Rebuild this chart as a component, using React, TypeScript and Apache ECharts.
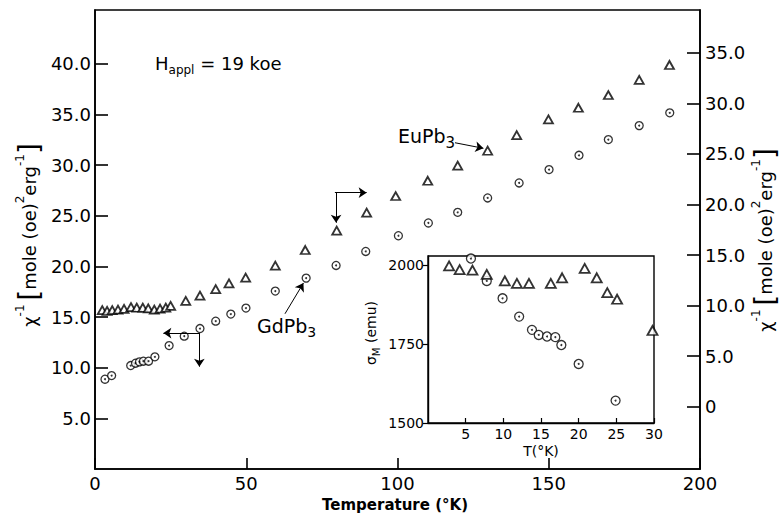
import React, { useEffect, useRef } from "react";
import * as echarts from "echarts";

// Main plot: GdPb3 (circles, left axis) and EuPb3 (triangles, right axis)
const gdT = [3.3, 5.5, 11.8, 13.4, 14.7, 16.0, 17.7, 19.8, 24.5, 29.5, 34.7, 39.9, 44.9, 49.9, 59.6, 69.8, 79.7, 89.5, 100.3, 110.2, 119.9, 129.8, 140.2, 150.1, 160.0, 169.7, 179.9, 190.0];
const gdChi = [8.86, 9.22, 10.21, 10.44, 10.57, 10.64, 10.64, 11.07, 12.18, 13.11, 13.86, 14.59, 15.29, 15.88, 17.56, 18.84, 20.09, 21.47, 23.02, 24.28, 25.33, 26.75, 28.23, 29.55, 30.96, 32.51, 33.89, 35.15];

const euT = [2.4, 4.0, 5.7, 7.6, 9.6, 11.9, 13.8, 15.8, 17.6, 19.6, 21.5, 23.4, 25.0, 30.0, 34.7, 39.9, 44.3, 49.8, 59.6, 69.5, 79.9, 89.8, 99.4, 110.0, 119.9, 129.8, 139.4, 149.9, 159.8, 169.7, 179.9, 189.9];
const euChi = [9.56, 9.47, 9.55, 9.61, 9.68, 9.86, 9.79, 9.79, 9.73, 9.60, 9.71, 9.79, 9.98, 10.46, 10.98, 11.64, 12.21, 12.76, 13.95, 15.50, 17.41, 19.19, 20.84, 22.35, 23.84, 25.32, 26.87, 28.43, 29.57, 30.83, 32.32, 33.80];

// Inset: sigma_M vs T
const insetEuT = [2.8, 4.2, 5.9, 7.8, 10.2, 11.8, 13.4, 16.3, 17.8, 20.8, 22.4, 23.8, 25.1, 29.8];
const insetEuS = [1998, 1986, 1984, 1971, 1950, 1942, 1942, 1942, 1960, 1990, 1960, 1913, 1892, 1793];
const insetGdT = [5.7, 7.8, 9.9, 12.1, 13.8, 14.7, 15.8, 16.9, 17.7, 20.0, 24.9];
const insetGdS = [2021, 1950, 1895, 1837, 1795, 1779, 1774, 1772, 1747, 1687, 1571];

// Tick values
const mainXTicks = [0, 50, 100, 150, 200];
const leftTicks = [5, 10, 15, 20, 25, 30, 35, 40];
const rightTicks = [0, 5, 10, 15, 20, 25, 30, 35];
const insetXTicks = [5, 10, 15, 20, 25, 30];
const insetYTicks = [1500, 1750, 2000];

const FONT = "DejaVu Sans";

export default function App() {
  const ref = useRef<HTMLDivElement>(null);

  useEffect(() => {
    const chart = echarts.init(ref.current!, null, { renderer: "svg" });
    const line = { color: "#000", width: 1.6 };
    const lab = { color: "#000", fontFamily: FONT, fontSize: 18 };
    const labSmall = { color: "#000", fontFamily: FONT, fontSize: 14 };
    const circleStyle = { color: "#fff", borderColor: "#000", borderWidth: 1.3 };
    const triStyle = { color: "#fff", borderColor: "#000", borderWidth: 1.8 };
    const zip = (a: number[], b: number[]) => a.map((v, i) => [v, b[i]]);
    const arrowML = (pairs: number[][][]) => ({
      silent: true,
      symbol: ["none", "arrow"],
      symbolSize: 8,
      itemStyle: { color: "#000" },
      lineStyle: { color: "#000", width: 1, type: "solid" },
      label: { show: false },
      data: pairs.map((p) => [{ coord: p[0] }, { coord: p[1] }]),
    });

    const axisNameRich = {
      t: { fontFamily: FONT, fontSize: 18, color: "#000" },
      s: { fontFamily: FONT, fontSize: 12, color: "#000", verticalAlign: "top", lineHeight: 30 },
      b: { fontFamily: FONT, fontSize: 28, color: "#000" },
    };
    const axisNameText = "{t|χ}{s|-1 }{b|[}{t|mole (oe)}{s|2}{t|erg}{s|-1}{b|]}";

    chart.setOption({
      animation: false,
      grid: [
        { left: 95, top: 10, right: 82, bottom: 45, show: true, borderColor: "#000", borderWidth: 1.6 },
        { left: 428, top: 256, right: 128, bottom: 91, show: true, borderColor: "#000", borderWidth: 1.4, backgroundColor: "#fff" },
      ],
      xAxis: [
        {
          gridIndex: 0, type: "value", min: 0, max: 200,
          axisLine: { show: true, lineStyle: line },
          axisTick: { show: true, inside: true, length: 11, lineStyle: line, customValues: mainXTicks },
          axisLabel: { ...lab, margin: 5, customValues: mainXTicks, formatter: (v: number) => String(v) },
          splitLine: { show: false },
        },
        {
          gridIndex: 1, type: "value", min: 0, max: 30,
          axisLine: { show: true, lineStyle: { color: "#000", width: 1.4 } },
          axisTick: { show: true, inside: true, length: 5, lineStyle: { color: "#000", width: 1.2 }, customValues: insetXTicks },
          axisLabel: { ...labSmall, margin: 4, customValues: insetXTicks, formatter: (v: number) => String(v) },
          splitLine: { show: false },
        },
      ],
      yAxis: [
        {
          gridIndex: 0, type: "value", position: "left", min: 0, max: 45.3,
          axisLine: { show: true, lineStyle: line },
          axisTick: { show: true, inside: true, length: 13, lineStyle: line, customValues: leftTicks },
          axisLabel: { ...lab, margin: 4, customValues: leftTicks, formatter: (v: number) => v.toFixed(1) },
          splitLine: { show: false },
        },
        {
          gridIndex: 0, type: "value", position: "right", min: -6.16, max: 39.24,
          axisLine: { show: true, lineStyle: line },
          axisTick: { show: true, inside: true, length: 13, lineStyle: line, customValues: rightTicks },
          axisLabel: { ...lab, margin: 5, customValues: rightTicks, formatter: (v: number) => (v === 0 ? "0" : v.toFixed(1)) },
          splitLine: { show: false },
        },
        {
          gridIndex: 1, type: "value", position: "left", min: 1500, max: 2029,
          axisLine: { show: true, lineStyle: { color: "#000", width: 1.4 } },
          axisTick: { show: true, inside: false, length: 5, lineStyle: { color: "#000", width: 1.2 }, customValues: insetYTicks },
          axisLabel: { ...labSmall, margin: 4, customValues: insetYTicks, formatter: (v: number) => String(v) },
          splitLine: { show: false },
        },
      ],
      series: [
        {
          name: "GdPb3", type: "scatter", xAxisIndex: 0, yAxisIndex: 0,
          symbol: "circle", symbolSize: 8, itemStyle: circleStyle, data: zip(gdT, gdChi),
        },
        {
          type: "scatter", xAxisIndex: 0, yAxisIndex: 0, symbol: "circle", symbolSize: 2,
          itemStyle: { color: "#000" }, data: zip(gdT, gdChi), z: 3,
          markLine: arrowML([
            [[34.7, 13.41], [22.6, 13.41]],
            [[34.5, 13.41], [34.5, 10.1]],
            [[62.8, 15.32], [68.9, 18.35]],
          ]),
        },
        {
          name: "EuPb3", type: "scatter", xAxisIndex: 0, yAxisIndex: 1,
          symbol: "triangle", symbolSize: [9, 8], itemStyle: triStyle, data: zip(euT, euChi),
        },
        {
          type: "scatter", xAxisIndex: 0, yAxisIndex: 1, symbol: "none",
          itemStyle: { color: "#000" }, data: [],
          markLine: arrowML([
            [[79.3, 21.17], [89.8, 21.17]],
            [[79.7, 21.17], [79.7, 18.2]],
            [[119.0, 26.11], [128.4, 25.56]],
          ]),
        },
        {
          type: "scatter", xAxisIndex: 1, yAxisIndex: 2,
          symbol: "circle", symbolSize: 9, itemStyle: circleStyle, data: zip(insetGdT, insetGdS), z: 4,
        },
        { type: "scatter", xAxisIndex: 1, yAxisIndex: 2, symbol: "circle", symbolSize: 2, itemStyle: { color: "#000" }, data: zip(insetGdT, insetGdS), z: 5 },
        {
          type: "scatter", xAxisIndex: 1, yAxisIndex: 2,
          symbol: "triangle", symbolSize: [10, 9], itemStyle: triStyle, data: zip(insetEuT, insetEuS), z: 4,
        },
      ],
      graphic: [
        {
          type: "text", left: 155, top: 54, z: 10,
          style: {
            text: "{h|H}{s|appl}{h| = 19 koe}",
            rich: {
              h: { fontFamily: FONT, fontSize: 18, color: "#000", lineHeight: 26 },
              s: { fontFamily: FONT, fontSize: 12, color: "#000", lineHeight: 18, verticalAlign: "bottom" },
            },
          },
        },
        {
          type: "text", left: 398, top: 126, z: 10,
          style: {
            text: "{h|EuPb}{s|3}",
            rich: {
              h: { fontFamily: FONT, fontSize: 19, color: "#000", lineHeight: 30 },
              s: { fontFamily: FONT, fontSize: 15, color: "#000", lineHeight: 16, verticalAlign: "bottom" },
            },
          },
        },
        {
          type: "text", left: 257, top: 316, z: 10,
          style: {
            text: "{h|GdPb}{s|3}",
            rich: {
              h: { fontFamily: FONT, fontSize: 19, color: "#000", lineHeight: 26 },
              s: { fontFamily: FONT, fontSize: 14, color: "#000", lineHeight: 16, verticalAlign: "bottom" },
            },
          },
        },
        {
          type: "text", x: 395, y: 505, z: 10,
          style: { text: "Temperature (°K)", fontFamily: FONT, fontSize: 15, fontWeight: "bold", fill: "#000", align: "center", verticalAlign: "middle" },
        },
        {
          type: "text", x: 541, y: 451, z: 10,
          style: { text: "T(°K)", fontFamily: FONT, fontSize: 14, fill: "#000", align: "center", verticalAlign: "middle" },
        },
        {
          type: "text", x: 371, y: 333, rotation: Math.PI / 2, z: 10,
          style: {
            text: "{t|σ}{s|M}{t| (emu)}",
            align: "center", verticalAlign: "middle",
            rich: {
              t: { fontFamily: FONT, fontSize: 14, color: "#000", lineHeight: 20 },
              s: { fontFamily: FONT, fontSize: 10, color: "#000", lineHeight: 12, verticalAlign: "bottom" },
            },
          },
        },
        {
          type: "text", x: 29, y: 235, rotation: Math.PI / 2, z: 10,
          style: { text: axisNameText, align: "center", verticalAlign: "middle", rich: axisNameRich },
        },
        {
          type: "text", x: 765, y: 240, rotation: Math.PI / 2, z: 10,
          style: { text: axisNameText, align: "center", verticalAlign: "middle", rich: axisNameRich },
        },
      ],
    });
    return () => chart.dispose();
  }, []);

  return <div ref={ref} style={{ position: "absolute", left: 0, top: 0, width: 782, height: 514, background: "#fff" }} />;
}
